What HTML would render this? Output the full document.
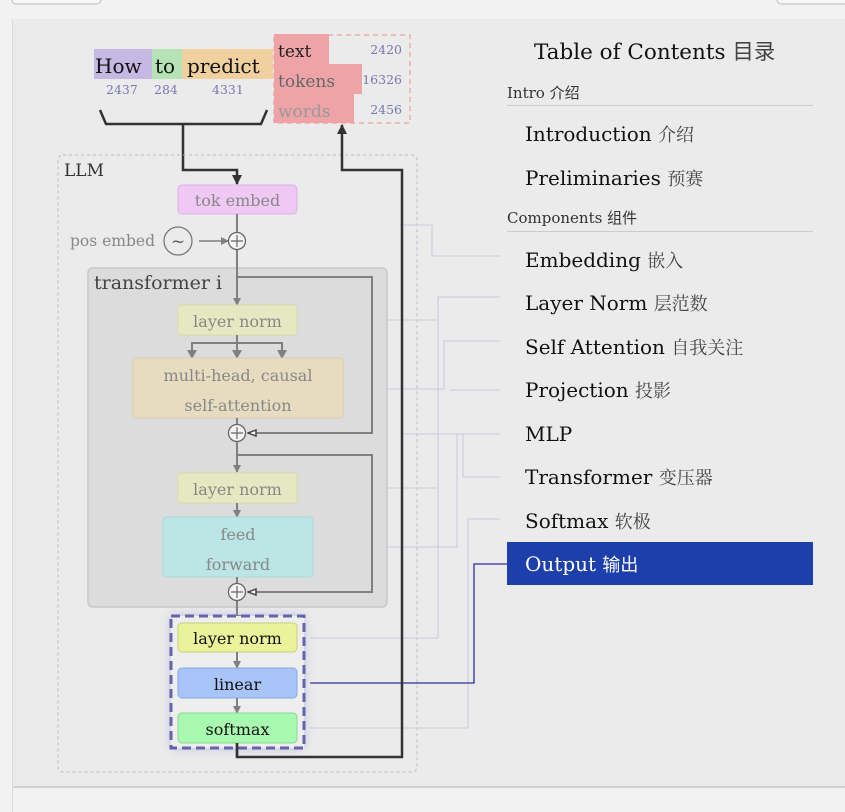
<!DOCTYPE html>
<html><head><meta charset="utf-8"><style>
html,body{margin:0;padding:0;background:#f2f2f2;width:845px;height:812px;overflow:hidden}
svg{display:block}
text{font-family:"DejaVu Serif","Liberation Serif","Noto Serif CJK SC",serif}
.c{font-family:"DejaVu Serif","Noto Sans CJK SC",serif}
</style></head><body>
<svg width="845" height="812" viewBox="0 0 845 812" xmlns="http://www.w3.org/2000/svg">
<defs>
<marker id="ag" markerWidth="8" markerHeight="8" refX="7" refY="4" orient="auto" markerUnits="userSpaceOnUse"><path d="M0,0 L8,4 L0,8 z" fill="#808080"/></marker>
<marker id="ak" markerWidth="10" markerHeight="10" refX="9" refY="5" orient="auto" markerUnits="userSpaceOnUse"><path d="M0,0 L10,5 L0,10 z" fill="#333"/></marker>
<marker id="ao" markerWidth="10" markerHeight="8" refX="9" refY="4" orient="auto" markerUnits="userSpaceOnUse"><path d="M1,1 L9,4 L1,7 z" fill="#fff" stroke="#444" stroke-width="1.5"/></marker>
<filter id="glow" x="-30%" y="-30%" width="160%" height="160%"><feGaussianBlur stdDeviation="5"/></filter>
</defs>
<rect x="12" y="-10" width="89" height="14" rx="4" fill="#f7f7f7" stroke="#bbb"/>
<rect x="777" y="-10" width="80" height="14" rx="4" fill="#f7f7f7" stroke="#bbb"/>
<rect x="12" y="19" width="840" height="768" fill="#ebebeb"/>
<line x1="12" y1="787" x2="845" y2="787" stroke="#c8c8c8" stroke-width="1.5"/>
<line x1="12.5" y1="19" x2="12.5" y2="812" stroke="#dcdcdc"/>

<rect x="94" y="49" width="58" height="30" fill="#c5b8e3"/>
<rect x="152" y="49" width="30" height="30" fill="#b5e3b5"/>
<rect x="182" y="49" width="91" height="30" fill="#efd09e"/>
<text x="95" y="73" font-size="20" fill="#111">How</text>
<text x="155" y="73" font-size="20" fill="#111">to</text>
<text x="187" y="73" font-size="20" fill="#111">predict</text>
<g font-size="12.5" fill="#7a78b0"><text x="106" y="94">2437</text><text x="154" y="94">284</text><text x="212" y="94">4331</text></g>

<rect x="274" y="34" width="55" height="30" fill="#eea3a6"/>
<rect x="274" y="64" width="88" height="30" fill="#eea3a6"/>
<rect x="274" y="94" width="80" height="29" fill="#eea3a6"/>
<rect x="274" y="35" width="136" height="88" fill="none" stroke="#f0a0a0" stroke-dasharray="5,4" stroke-width="1.2"/>
<text x="278" y="57" font-size="17" fill="#222">text</text>
<text x="278" y="87" font-size="17" fill="#666">tokens</text>
<text x="278" y="117" font-size="17" fill="#999">words</text>
<g font-size="12.5" fill="#7a78b0" text-anchor="end"><text x="402" y="54">2420</text><text x="402" y="84">16326</text><text x="402" y="114">2456</text></g>

<path d="M100,110 L106,124 L261,124 L267,110" fill="none" stroke="#333" stroke-width="2.5"/>
<path d="M183,124 L183,170 L237,170 L237,184" fill="none" stroke="#333" stroke-width="2.5" marker-end="url(#ak)"/>

<rect x="58" y="155" width="359" height="617" rx="5" fill="none" stroke="#bbb" stroke-dasharray="3,3"/>
<text x="64" y="176" font-size="17" fill="#333">LLM</text>

<g fill="none" stroke="#cfcfe0" stroke-width="1.2">
<path d="M400,225 L432,225 L432,256 L500,256"/>
<path d="M310,320 L438,320 M310,488 L438,488 M310,638 L438,638 M438,638 L438,297 L500,297"/>
<path d="M355,389 L444,389 L444,341 L500,341"/>
<path d="M450,390 L500,390"/>
<path d="M313,547 L457,547 L457,434 L500,434"/>
<path d="M401,434 L463,434 L463,477 L500,477"/>
<path d="M310,728 L468,728 L468,519 L500,519"/>
</g>
<path d="M310,683 L474,683 L474,564 L507,564" fill="none" stroke="#2a2f9a" stroke-width="1.3"/>

<rect x="178" y="185" width="119" height="29" rx="4" fill="#f0c8f4" stroke="#ddb0e8"/>
<text x="237.5" y="206" font-size="16" fill="#888" text-anchor="middle">tok embed</text>
<line x1="237" y1="214" x2="237" y2="232" stroke="#808080" stroke-width="2"/>
<text x="70" y="246" font-size="15.5" fill="#888">pos embed</text>
<circle cx="178" cy="241" r="14" fill="none" stroke="#777" stroke-width="1.3"/>
<text x="178" y="247" font-size="17" fill="#555" text-anchor="middle">~</text>
<line x1="199" y1="241" x2="228" y2="241" stroke="#808080" stroke-width="1.5" marker-end="url(#ag)"/>

<rect x="88" y="268" width="299" height="339" rx="5" fill="#dcdcdc" stroke="#c8c8c8" stroke-width="1.5"/>
<text x="94" y="289" font-size="19" fill="#444">transformer i</text>
<line x1="237" y1="250" x2="237" y2="305" stroke="#808080" stroke-width="2" marker-end="url(#ag)"/>
<path d="M237,277 L372,277 L372,433 L248,433" fill="none" stroke="#808080" stroke-width="2" marker-end="url(#ao)"/>
<circle cx="237" cy="241" r="8.5" fill="#f4f4f4" stroke="#666" stroke-width="1.3"/>
<path d="M231,241 H243 M237,235 V247" stroke="#666" stroke-width="1.2"/>

<rect x="178" y="305" width="119" height="30" rx="4" fill="#e5e8c0" stroke="#d8dca8"/>
<text x="237.5" y="327" font-size="16" fill="#888" text-anchor="middle">layer norm</text>
<path d="M237,335 V358 M192,343 H282 M192,342 V358 M282,342 V358" fill="none" stroke="#808080" stroke-width="2"/>
<path d="M187,350 L192,359 L197,350z M232,350 L237,359 L242,350z M277,350 L282,359 L287,350z" fill="#808080"/>
<rect x="133" y="358" width="210" height="60" rx="4" fill="#e8dcc0" stroke="#dccca8"/>
<text x="238" y="381" font-size="16" fill="#888" text-anchor="middle">multi-head, causal</text>
<text x="238" y="411" font-size="16" fill="#888" text-anchor="middle">self-attention</text>
<line x1="237" y1="418" x2="237" y2="472" stroke="#808080" stroke-width="2" marker-end="url(#ag)"/>
<path d="M237,455 L372,455 L372,592 L248,592" fill="none" stroke="#808080" stroke-width="2" marker-end="url(#ao)"/>
<circle cx="237" cy="433" r="8.5" fill="#f4f4f4" stroke="#666" stroke-width="1.3"/>
<path d="M231,433 H243 M237,427 V439" stroke="#666" stroke-width="1.2"/>

<rect x="178" y="473" width="119" height="30" rx="4" fill="#e5e8c0" stroke="#d8dca8"/>
<text x="237.5" y="495" font-size="16" fill="#888" text-anchor="middle">layer norm</text>
<line x1="237" y1="503" x2="237" y2="517" stroke="#808080" stroke-width="2" marker-end="url(#ag)"/>
<rect x="163" y="517" width="150" height="60" rx="4" fill="#bce5e5" stroke="#a8dcdc"/>
<text x="238" y="540" font-size="16" fill="#888" text-anchor="middle">feed</text>
<text x="238" y="570" font-size="16" fill="#888" text-anchor="middle">forward</text>
<line x1="237" y1="577" x2="237" y2="622" stroke="#808080" stroke-width="2" marker-end="url(#ag)"/>
<circle cx="237" cy="592" r="8.5" fill="#f4f4f4" stroke="#666" stroke-width="1.3"/>
<path d="M231,592 H243 M237,586 V598" stroke="#666" stroke-width="1.2"/>

<rect x="171" y="616" width="133" height="132" fill="#8080d0" opacity="0.45" filter="url(#glow)"/>
<rect x="171" y="616" width="133" height="132" fill="#eeeeee" stroke="#6464aa" stroke-width="3" stroke-dasharray="9,5"/>
<path d="M237,743 V757 H402 V170 H342 V125" fill="none" stroke="#333" stroke-width="2.5" marker-end="url(#ak)"/>
<rect x="178" y="623" width="119" height="29" rx="4" fill="#eaf29a" stroke="#c8d080"/>
<text x="237.5" y="644" font-size="16" fill="#111" text-anchor="middle">layer norm</text>
<line x1="237" y1="652" x2="237" y2="668" stroke="#808080" stroke-width="2" marker-end="url(#ag)"/>
<rect x="178" y="668" width="119" height="30" rx="4" fill="#a8c4f8" stroke="#88a8e8"/>
<text x="237.5" y="690" font-size="16" fill="#111" text-anchor="middle">linear</text>
<line x1="237" y1="698" x2="237" y2="713" stroke="#808080" stroke-width="2" marker-end="url(#ag)"/>
<rect x="178" y="713" width="119" height="30" rx="4" fill="#a8f8b0" stroke="#88d890"/>
<text x="237.5" y="735" font-size="16" fill="#111" text-anchor="middle">softmax</text>
<line x1="237" y1="743" x2="237" y2="757" stroke="#333" stroke-width="2.5"/>

<text x="534" y="59" font-size="21.5" fill="#111" class="c">Table of Contents <tspan fill="#444">目录</tspan></text>
<text x="507" y="98" font-size="15" fill="#333" class="c">Intro <tspan>介绍</tspan></text>
<line x1="507" y1="105.5" x2="813" y2="105.5" stroke="#ccc"/>
<g font-size="20" fill="#111" class="c">
<text x="525" y="141">Introduction <tspan font-size="18" fill="#444">介绍</tspan></text>
<text x="525" y="185">Preliminaries <tspan font-size="18" fill="#444">预赛</tspan></text>
</g>
<text x="507" y="223" font-size="15" fill="#333" class="c">Components <tspan>组件</tspan></text>
<line x1="507" y1="231.5" x2="813" y2="231.5" stroke="#ccc"/>
<g font-size="20" fill="#111" class="c">
<text x="525" y="267">Embedding <tspan font-size="18" fill="#444">嵌入</tspan></text>
<text x="525" y="310">Layer Norm <tspan font-size="18" fill="#444">层范数</tspan></text>
<text x="525" y="354">Self Attention <tspan font-size="18" fill="#444">自我关注</tspan></text>
<text x="525" y="397">Projection <tspan font-size="18" fill="#444">投影</tspan></text>
<text x="525" y="441">MLP</text>
<text x="525" y="484">Transformer <tspan font-size="18" fill="#444">变压器</tspan></text>
<text x="525" y="528">Softmax <tspan font-size="18" fill="#444">软极</tspan></text>
</g>
<rect x="507" y="542" width="306" height="43" fill="#1c3fac"/>
<text x="525" y="571" font-size="20" fill="#fff" class="c">Output <tspan font-size="18">输出</tspan></text>
</svg>
</body></html>
